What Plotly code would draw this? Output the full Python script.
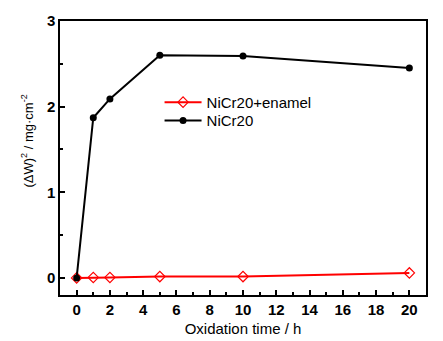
import plotly.graph_objects as go

# Oxidation time (h) and squared mass gain (mg^2 cm^-4)
time_h = [0, 1, 2, 5, 10, 20]
enamel_gain = [0.0, 0.005, 0.005, 0.015, 0.015, 0.058]
bare_gain = [0.0, 1.87, 2.09, 2.60, 2.59, 2.45]

x_ticks = [0, 2, 4, 6, 8, 10, 12, 14, 16, 18, 20]
y_ticks = [0, 1, 2, 3]

font_family = "Liberation Sans, Arial, sans-serif"

fig = go.Figure()
fig.add_trace(go.Scatter(
    x=time_h, y=enamel_gain, name="NiCr20+enamel", mode="lines+markers",
    line=dict(color="#ff0000", width=2),
    marker=dict(symbol="diamond-open", size=8, color="#ff0000", line=dict(width=1.2)),
    legend="legend",
))
fig.add_trace(go.Scatter(
    x=time_h, y=bare_gain, name="NiCr20", mode="lines+markers",
    line=dict(color="#000000", width=2),
    marker=dict(symbol="circle", size=7, color="#000000"),
    legend="legend2",
))

axis_common = dict(
    showline=True, linecolor="black", linewidth=1.5, mirror=True,
    ticks="inside", ticklen=5, tickwidth=1.5, tickcolor="black",
    showgrid=False, zeroline=False, automargin=False,
    tickfont=dict(family=font_family, size=15, color="black", weight="bold"),
)

fig.update_xaxes(
    range=[-1, 21], tickvals=x_ticks,
    minor=dict(dtick=1, tick0=0, ticks="inside", ticklen=3, tickwidth=1.5, tickcolor="black"),
    title=dict(text="Oxidation time / h", font=dict(family=font_family, size=15, color="black"), standoff=7),
    **axis_common,
)
fig.update_yaxes(
    range=[-0.2, 3], tickvals=y_ticks,
    minor=dict(dtick=0.5, tick0=0, ticks="inside", ticklen=3, tickwidth=1.5, tickcolor="black"),
    **axis_common,
)

# y-axis title drawn as a rotated annotation so it can sit slightly above centre
fig.add_annotation(
    text="(ΔW)<sup>2</sup> / mg·cm<sup>-2</sup>", textangle=-90,
    xref="paper", yref="paper", x=-0.09, y=0.56, xanchor="center", yanchor="middle",
    showarrow=False, font=dict(family=font_family, size=13, color="black"),
)

legend_style = dict(
    xanchor="left", yanchor="middle", bgcolor="rgba(0,0,0,0)", borderwidth=0,
    font=dict(family=font_family, size=15, color="black"), itemwidth=37,
)

fig.update_layout(
    width=443, height=341,
    margin=dict(l=60, r=17, t=21, b=46),
    plot_bgcolor="white", paper_bgcolor="white",
    showlegend=True,
    legend=dict(x=0.272, y=0.703, **legend_style),
    legend2=dict(x=0.272, y=0.636, **legend_style),
)

fig.write_html("out.html")
